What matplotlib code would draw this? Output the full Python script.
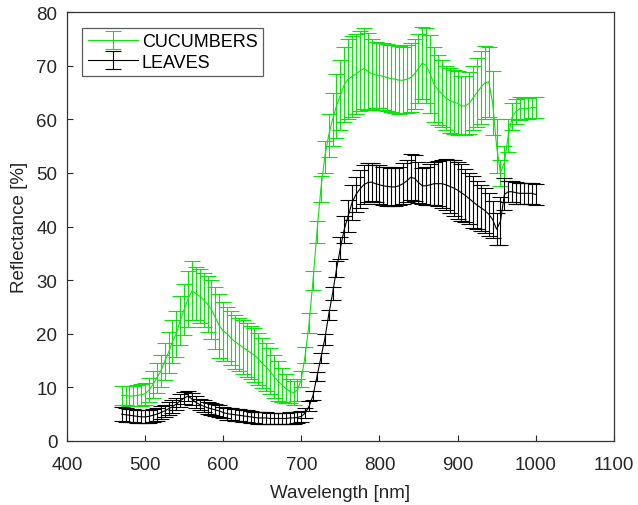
import numpy as np
import matplotlib
matplotlib.use("Agg")
import matplotlib.pyplot as plt

plt.rcParams['font.family'] = ['Liberation Sans', 'DejaVu Sans']

wavelength = np.arange(470, 1001, 5)

cucumber_mean = [
    8.5, 8.5, 8.4, 8.4, 8.5, 8.6, 8.8, 9.5, 10.5, 11.8,
    13.0, 14.8, 16.5, 18.5, 20.0, 22.5, 24.5, 26.5, 28.0, 27.5,
    27.0, 26.3, 25.5, 24.5, 23.0, 21.5, 20.5, 20.0, 19.2, 18.5,
    18.0, 17.5, 17.0, 16.5, 16.0, 15.3, 14.5, 13.8, 13.0, 12.0,
    11.2, 10.5, 9.8, 9.3, 9.0, 9.5, 11.5, 16.0, 22.0, 30.0,
    39.0, 47.0, 53.0, 57.0, 60.0, 62.5, 64.5, 66.5, 67.5, 68.0,
    68.5, 69.0, 69.5, 69.0, 68.5, 68.3, 68.2, 68.0, 67.8, 67.6,
    67.5, 67.3, 67.3, 67.5, 67.8, 68.5, 69.5, 70.5, 70.0, 68.5,
    66.5, 65.5, 64.8, 64.0, 63.5, 63.2, 63.0, 62.5, 62.5, 63.0,
    64.0, 65.0, 66.0, 66.8, 67.0, 63.0, 55.0, 50.0, 52.0, 57.0,
    60.5, 61.5, 62.0, 62.0, 62.0, 62.2, 62.2,
]
cucumber_err = [
    1.8, 1.8, 1.9, 1.9, 2.0, 2.0, 2.0, 2.2, 2.5, 2.8,
    3.0, 3.4, 3.8, 4.0, 4.3, 4.6, 4.8, 5.2, 5.5, 5.0,
    5.0, 5.0, 5.2, 5.5, 5.8, 6.0, 5.5, 5.0, 5.0, 5.0,
    5.0, 5.0, 5.0, 5.0, 5.0, 4.8, 4.7, 4.5, 4.3, 4.0,
    3.8, 3.2, 2.7, 2.3, 2.2, 2.0, 1.5, 1.5, 1.8, 1.8,
    2.0, 2.5, 3.0, 4.0, 5.0, 6.0, 6.5, 7.0, 7.5, 7.5,
    7.5, 7.5, 7.5, 7.2, 6.5, 6.2, 6.0, 6.2, 6.3, 6.3,
    6.3, 6.3, 6.2, 6.3, 6.5, 6.5, 6.5, 6.7, 7.0, 7.3,
    7.0, 6.5, 6.2, 6.0, 6.0, 6.0, 6.0, 5.5, 5.5, 5.8,
    6.0, 6.5, 6.8, 6.8, 6.5, 6.0, 5.0, 2.5, 3.0, 3.0,
    2.5, 2.3, 2.2, 2.0, 2.0, 2.0, 2.0,
]

leaves_mean = [
    5.0, 4.9, 4.8, 4.7, 4.6, 4.5, 4.5, 4.6, 4.8, 5.0,
    5.3, 5.6, 6.0, 6.4, 6.9, 7.5, 8.0, 8.4, 7.8, 7.2,
    6.8, 6.5, 6.2, 6.0, 5.8, 5.6, 5.3, 5.1, 5.0, 4.9,
    4.8, 4.7, 4.6, 4.5, 4.4, 4.3, 4.3, 4.3, 4.2, 4.2,
    4.2, 4.2, 4.2, 4.3, 4.3, 4.4, 4.6, 5.2, 6.5, 8.5,
    12.0, 15.5, 19.0, 23.5, 27.5, 32.0, 36.0, 39.5, 42.0, 44.5,
    46.0, 47.0, 47.8, 48.2, 48.3, 48.0, 47.8, 47.6, 47.5, 47.4,
    47.4, 47.6, 48.0, 48.5, 49.2, 49.0, 48.2, 47.6, 47.6, 47.8,
    48.0, 48.0, 48.0, 47.8, 47.5, 47.2, 46.8, 46.3, 45.8, 45.2,
    44.6, 44.0, 43.5, 43.0, 42.3, 41.3, 39.5, 41.0, 46.0, 46.5,
    46.5, 46.3, 46.2, 46.2, 46.2, 46.2, 46.0,
]
leaves_err = [
    1.3, 1.3, 1.2, 1.2, 1.2, 1.2, 1.2, 1.2, 1.2, 1.2,
    1.2, 1.2, 1.2, 1.2, 1.2, 1.2, 1.1, 1.0, 1.1, 1.1,
    1.1, 1.1, 1.1, 1.1, 1.1, 1.1, 1.1, 1.1, 1.1, 1.1,
    1.1, 1.1, 1.1, 1.1, 1.1, 1.1, 1.1, 1.1, 1.1, 1.1,
    1.1, 1.1, 1.1, 1.1, 1.1, 1.0, 1.0, 0.9, 0.9, 0.9,
    0.9, 1.0, 1.0, 1.0, 1.2, 1.5, 2.0, 2.5, 3.0, 3.2,
    3.3, 3.5, 3.6, 3.6, 3.5, 3.5, 3.6, 3.6, 3.6, 3.6,
    3.6, 3.6, 3.8, 4.0, 4.3, 4.3, 3.8, 3.4, 3.6, 3.8,
    4.0, 4.2, 4.5, 4.8, 5.0, 5.2, 5.3, 5.3, 5.0, 4.8,
    4.8, 4.5, 4.3, 4.2, 4.0, 3.5, 3.0, 4.5, 3.0, 2.0,
    2.0, 2.0, 2.0, 2.0, 2.0, 2.0, 2.0,
]

fig = plt.figure(figsize=(6.38, 5.06), dpi=100)
ax = fig.add_axes([0.105, 0.1265, 0.857, 0.8475])

ax.errorbar(wavelength, cucumber_mean, yerr=cucumber_err, color='#0fe00f',
            linewidth=0.8, elinewidth=0.8, capsize=6, capthick=0.8, label='CUCUMBERS')
ax.errorbar(wavelength, leaves_mean, yerr=leaves_err, color='black',
            linewidth=0.8, elinewidth=0.8, capsize=6, capthick=0.8, label='LEAVES')

ax.set_xlim(400, 1100)
ax.set_ylim(0, 80)
ax.set_xticks(np.arange(400, 1101, 100))
ax.set_yticks(np.arange(0, 81, 10))
ax.tick_params(direction='in', labelsize=13.5, length=4, colors='#262626',
               top=False, right=False)
ax.tick_params(axis='x', pad=11)
ax.tick_params(axis='y', pad=7)
for s in ax.spines.values():
    s.set_color('#333333')
    s.set_linewidth(0.9)

ax.set_xlabel('Wavelength [nm]', fontsize=13.5, color='#262626', labelpad=8)
ax.set_ylabel('Reflectance [%]', fontsize=13.5, color='#262626', labelpad=6)

leg = ax.legend(loc='upper left', fontsize=13, frameon=True, fancybox=False,
                edgecolor='#333333', handlelength=2.8, borderaxespad=0.85,
                handletextpad=0.2, labelspacing=0.2, borderpad=0.3)
leg.get_frame().set_linewidth(0.9)

fig.savefig('out.png', dpi=100)
